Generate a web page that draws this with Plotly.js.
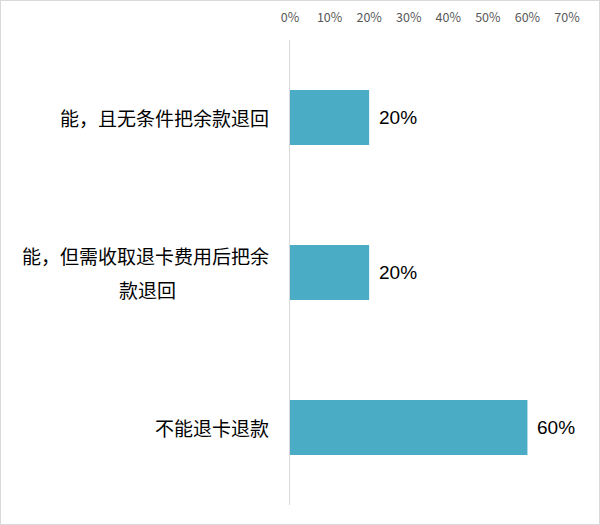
<!DOCTYPE html>
<html>
<head>
<meta charset="utf-8">
<script src="https://cdn.plot.ly/plotly-3.0.1.min.js"></script>
<style>
  html, body { margin: 0; padding: 0; background: #fff; }
  #chart { width: 598px; height: 523px; border: 1px solid #d9d9d9; }
</style>
</head>
<body>
<div id="chart"></div>
<script>
// categories, top to bottom
const categories = ['能，且无条件把余款退回', '能，但需收取退卡费用后把余<br>款退回', '不能退卡退款'];
const shares = [0.20, 0.20, 0.60];
const tickValues = [0, 0.1, 0.2, 0.3, 0.4, 0.5, 0.6, 0.7];

const barColor = '#4bacc6';
const cjkFont = '"Noto Sans CJK SC", "Microsoft YaHei", sans-serif';
const labelSize = 19;
const labelGap = 19;
const lineStep = 34;

const trace = {
  type: 'bar',
  orientation: 'h',
  x: shares,
  y: categories,
  marker: { color: barColor },
  textposition: 'none',
  hoverinfo: 'none'
};

// category labels as annotations: one per line so the spacing can be wider
// and the second line can sit centred under the first
const labels = [];
categories.forEach(c => {
  const lines = c.split('<br>');
  const firstWidth = lines[0].length * labelSize;
  lines.forEach((line, i) => {
    const offset = (i - (lines.length - 1) / 2) * lineStep;
    labels.push({
      xref: 'paper', yref: 'y',
      x: 0, y: c,
      xanchor: i === 0 ? 'right' : 'center',
      xshift: i === 0 ? -labelGap : -labelGap - firstWidth / 2,
      yshift: -offset,
      text: line,
      showarrow: false,
      font: { family: cjkFont, size: labelSize, color: '#000' }
    });
  });
});

// value labels to the right of each bar
const values = shares.map((v, i) => ({
  xref: 'x', yref: 'y',
  x: v, y: categories[i],
  xanchor: 'left', xshift: 8,
  text: Math.round(v * 100) + '%',
  showarrow: false,
  font: { family: 'Liberation Sans, Arial, sans-serif', size: 19, color: '#000' }
}));

Plotly.newPlot('chart', [trace], {
  width: 598,
  height: 523,
  margin: { l: 289, r: 32, t: 39, b: 19 },
  paper_bgcolor: '#fff',
  plot_bgcolor: '#fff',
  bargap: 0.645,
  showlegend: false,
  xaxis: {
    side: 'top',
    range: [0, 0.7],
    tickvals: tickValues,
    tickformat: '.0%',
    showgrid: false,
    zeroline: false,
    showline: false,
    ticks: 'outside',
    ticklen: 12,
    tickcolor: 'rgba(0,0,0,0)',
    tickfont: { family: cjkFont, size: 12.5, color: '#595959' }
  },
  yaxis: {
    autorange: 'reversed',
    showticklabels: false,
    showgrid: false,
    zeroline: false,
    showline: true,
    linecolor: '#d9d9d9',
    linewidth: 1,
    ticks: ''
  },
  annotations: labels.concat(values)
}, { displayModeBar: false, staticPlot: true });
</script>
</body>
</html>
